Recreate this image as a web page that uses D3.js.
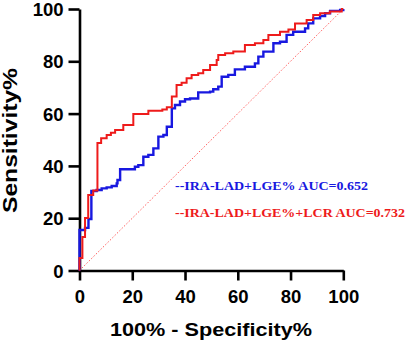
<!DOCTYPE html>
<html>
<head>
<meta charset="utf-8">
<script src="https://cdn.jsdelivr.net/npm/d3@7"></script>
<style>
  body { margin: 0; background: #fff; }
  svg { display: block; }
</style>
</head>
<body>
<div id="myChart"></div>
<script>
// ROC data (100% - specificity, sensitivity), step corners
const redFpr = [0, 0, 1.1, 2.1, 3.3, 5.2, 6.8, 8.2, 10.3, 11.9, 13.5, 16.6, 20.4, 26.1, 31.4, 33.1, 35, 36.8, 38.7, 40.6,
  42.5, 45, 46.9, 49.5, 52, 52.6, 55.2, 58.3, 62.7, 66.5, 69.7, 71.6, 76, 79.2, 81.7, 86.1, 88.6, 91.2, 94.9, 99.4, 100];
const redTpr = [0, 4.8, 12.8, 20.1, 28.9, 30.6, 48.8, 50.6, 51.8, 52.7, 53.7, 55.6, 59.8, 61.1, 61.6, 62.4, 66.5, 70.9, 71.8, 73.5,
  74.8, 75.4, 76.7, 78.6, 80.5, 82.4, 83.1, 83.7, 86.2, 86.9, 88.1, 90.1, 91.3, 92.2, 94.5, 95.8, 97.7, 98.4, 99, 100, 100];

const blueFpr = [0, 0, 2.1, 3.4, 4.5, 6.5, 8.4, 10.3, 12.2, 14.1, 14.4, 15.4, 21, 22.3, 24.2, 26.1, 28, 29.9, 31.8, 33.1,
  35, 36.2, 38.1, 40, 41.9, 45, 49.5, 50.7, 52.6, 53.9, 56.4, 58.9, 62.7, 66.5, 67.8, 69.7, 73.5, 76, 78.5, 81,
  85.5, 86.7, 88.6, 91.2, 93.1, 95, 98.8, 100];
const blueTpr = [0, 15.5, 16.3, 19.7, 30.4, 30.8, 31.4, 31.8, 32.3, 33.3, 34.6, 38.7, 39.7, 40.3, 43.5, 44.2, 46.7, 51.2, 51.8, 55,
  62, 63.3, 64.6, 65.5, 65.8, 68.1, 68.4, 69.3, 70.3, 74.1, 74.8, 76.9, 77.9, 79.2, 81.8, 83.7, 86.9, 87.5, 90.1, 91.3,
  92.6, 94.5, 96.4, 97.3, 98.4, 99.3, 99.6, 100];

const xTicks = [0, 20, 40, 60, 80, 100];
const yTicks = [0, 20, 40, 60, 80, 100];
const legendLabels = ["--IRA-LAD+LGE% AUC=0.652", "--IRA-LAD+LGE%+LCR AUC=0.732"];

const w = 408;
const h = 342;
const margin = {top: 9, left: 79.5, bottom: 71.5, right: 64.7};
const innerWidth = w - margin.left - margin.right;
const innerHeight = h - margin.top - margin.bottom;

const blue = "#1818e0";
const red = "#ee1b1b";

const svg = d3.select("#myChart")
  .append("svg")
    .attr("width", w)
    .attr("height", h);

const mainG = svg.append("g")
    .attr("transform", `translate(${margin.left}, ${margin.top})`);

const xScale = d3.scaleLinear().domain([0, 100]).range([0, innerWidth]);
const yScale = d3.scaleLinear().domain([0, 100]).range([innerHeight, 0]);

// axes
const xAxisG = mainG.append("g")
    .attr("transform", `translate(0,${innerHeight})`)
    .call(d3.axisBottom(xScale).tickValues(xTicks).tickSize(10).tickPadding(9).tickSizeOuter(0));

const yAxisG = mainG.append("g")
    .call(d3.axisLeft(yScale).tickValues(yTicks).tickSize(11).tickPadding(5).tickSizeOuter(0));

[xAxisG, yAxisG].forEach(g => {
  g.select(".domain").attr("stroke", "#000").attr("stroke-width", 2.6);
  g.selectAll(".tick line").attr("stroke", "#000").attr("stroke-width", 2.6);
  g.selectAll(".tick text")
    .attr("fill", "#000")
    .style("font-family", "'Liberation Sans', Arial, sans-serif")
    .style("font-weight", "bold")
    .style("font-size", "18.5px");
});
yAxisG.selectAll(".tick text").attr("dy", "0.36em");

// reference diagonal
mainG.append("line")
    .attr("x1", xScale(0)).attr("y1", yScale(0))
    .attr("x2", xScale(100)).attr("y2", yScale(100))
    .attr("stroke", "#ff4d4d")
    .attr("stroke-width", 0.9)
    .attr("stroke-dasharray", "1.5,1.8");

// ROC step lines
const line = d3.line()
    .x(d => xScale(d[0]))
    .y(d => yScale(d[1]))
    .curve(d3.curveStepAfter);

const blueData = d3.zip(blueFpr, blueTpr);
const redData = d3.zip(redFpr, redTpr);

mainG.append("path")
    .datum(blueData)
    .attr("fill", "none")
    .attr("stroke", blue)
    .attr("stroke-width", 2.4)
    .attr("d", line);

mainG.append("path")
    .datum(redData)
    .attr("fill", "none")
    .attr("stroke", red)
    .attr("stroke-width", 2)
    .attr("d", line);

// legend text
const legendColors = [blue, red];
const legendY = [190, 217];
const legendLen = [193, 230];
legendLabels.forEach((t, i) => {
  svg.append("text")
    .attr("x", 175)
    .attr("y", legendY[i])
    .attr("fill", legendColors[i])
    .attr("textLength", legendLen[i])
    .attr("lengthAdjust", "spacingAndGlyphs")
    .style("font-family", "'Liberation Serif', 'Times New Roman', serif")
    .style("font-weight", "bold")
    .style("font-size", "13px")
    .text(t);
});

// axis titles
svg.append("text")
    .attr("x", 211)
    .attr("y", 336)
    .attr("text-anchor", "middle")
    .attr("textLength", 202)
    .attr("lengthAdjust", "spacingAndGlyphs")
    .style("font-family", "'Liberation Sans', Arial, sans-serif")
    .style("font-weight", "bold")
    .style("font-size", "19px")
    .text("100% - Specificity%");

svg.append("text")
    .attr("transform", "translate(17,140.5) rotate(-90)")
    .attr("text-anchor", "middle")
    .attr("textLength", 145)
    .attr("lengthAdjust", "spacingAndGlyphs")
    .style("font-family", "'Liberation Sans', Arial, sans-serif")
    .style("font-weight", "bold")
    .style("font-size", "20px")
    .text("Sensitivity%");
</script>
</body>
</html>
